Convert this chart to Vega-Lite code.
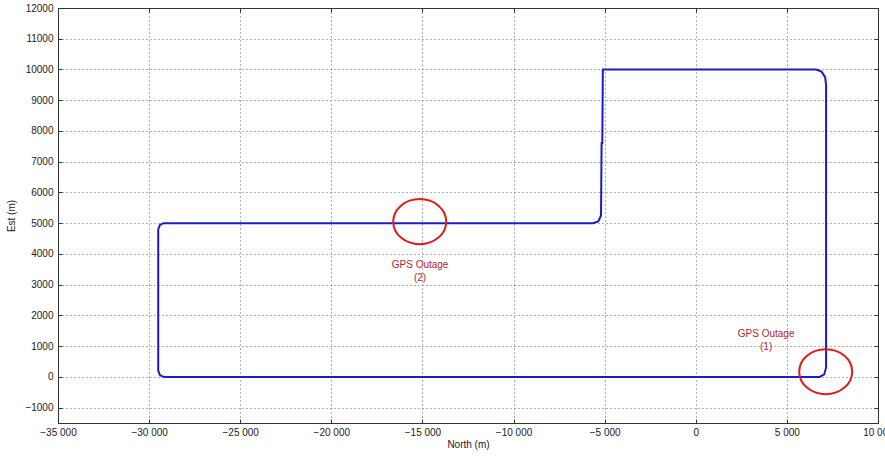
{
  "$schema": "https://vega.github.io/schema/vega-lite/v6.json",
  "autosize": "none",
  "width": 820,
  "height": 415,
  "padding": {"left": 58, "top": 8, "right": 7, "bottom": 36},
  "background": "white",
  "config": {
    "view": {"stroke": "#333", "strokeWidth": 1},
    "axis": {
      "labelFont": "Liberation Sans",
      "labelFontSize": 10,
      "labelColor": "#222",
      "titleFont": "Liberation Sans",
      "titleFontSize": 10,
      "titleFontWeight": "normal",
      "titleColor": "#222",
      "domainColor": "#333",
      "tickColor": "#333",
      "gridColor": "#555",
      "gridDash": [1, 3],
      "gridOpacity": 0.9,
      "labelFlush": false,
      "labelOverlap": false
    }
  },
  "datasets": {
    "path": [
      {"i": 1, "north": -29200, "est": 0},
      {"i": 2, "north": -29400, "est": 50},
      {"i": 3, "north": -29500, "est": 200},
      {"i": 4, "north": -29500, "est": 4800},
      {"i": 5, "north": -29400, "est": 4950},
      {"i": 6, "north": -29200, "est": 5000},
      {"i": 7, "north": -24000, "est": 5000},
      {"i": 8, "north": -5650, "est": 5000},
      {"i": 9, "north": -5350, "est": 5060},
      {"i": 10, "north": -5200, "est": 5250},
      {"i": 11, "north": -5170, "est": 7600},
      {"i": 12, "north": -5130, "est": 7600},
      {"i": 13, "north": -5100, "est": 10000},
      {"i": 14, "north": 6600, "est": 10000},
      {"i": 15, "north": 6900, "est": 9930},
      {"i": 16, "north": 7100, "est": 9750},
      {"i": 17, "north": 7150, "est": 9500},
      {"i": 18, "north": 7150, "est": 300},
      {"i": 19, "north": 7050, "est": 80},
      {"i": 20, "north": 6800, "est": 0},
      {"i": 21, "north": -29200, "est": 0}
    ],
    "outages": [
      {"north": -15150, "est": 5050, "name": "GPS Outage (2)"},
      {"north": 7130, "est": 170, "name": "GPS Outage (1)"}
    ],
    "labels": [
      {"north": -15130, "est": 3640, "text": "GPS Outage\n(2)"},
      {"north": 3860, "est": 1400, "text": "GPS Outage\n(1)"}
    ]
  },
  "layer": [
    {
      "data": {"name": "path"},
      "mark": {"type": "line", "color": "#1c1cc8", "strokeWidth": 2},
      "encoding": {
        "x": {
          "field": "north", "type": "quantitative",
          "scale": {"domain": [-35000, 10000], "nice": false, "zero": false},
          "axis": {
            "title": "North (m)",
            "values": [-35000, -30000, -25000, -20000, -15000, -10000, -5000, 0, 5000, 10000],
            "labelExpr": "replace(format(datum.value, ','), /,/g, ' ')",
            "tickSize": -4,
            "labelPadding": 8,
            "titlePadding": 2
          }
        },
        "y": {
          "field": "est", "type": "quantitative",
          "scale": {"domain": [-1500, 12000], "nice": false, "zero": false},
          "axis": {
            "title": "Est (m)",
            "values": [-1000, 0, 1000, 2000, 3000, 4000, 5000, 6000, 7000, 8000, 9000, 10000, 11000, 12000],
            "format": "d",
            "tickSize": -4,
            "labelPadding": 9,
            "titlePadding": 8
          }
        },
        "order": {"field": "i", "type": "quantitative"}
      }
    },
    {
      "data": {"name": "outages"},
      "mark": {
        "type": "point",
        "shape": "M-1,0 A1,0.85 0 1,0 1,0 A1,0.85 0 1,0 -1,0 Z",
        "size": 2809,
        "filled": false,
        "stroke": "#dd1c1c",
        "strokeWidth": 2,
        "opacity": 1
      },
      "encoding": {
        "x": {"field": "north", "type": "quantitative", "axis": {"orient": "top", "labels": false, "title": null, "grid": false, "tickSize": -4, "values": [-35000, -30000, -25000, -20000, -15000, -10000, -5000, 0, 5000, 10000]}},
        "y": {"field": "est", "type": "quantitative", "axis": {"orient": "right", "labels": false, "title": null, "grid": false, "tickSize": -4, "values": [-1000, 0, 1000, 2000, 3000, 4000, 5000, 6000, 7000, 8000, 9000, 10000, 11000, 12000]}}
      }
    },
    {
      "data": {"name": "labels"},
      "mark": {
        "type": "text",
        "font": "Liberation Sans",
        "fontSize": 10,
        "color": "#b5262a",
        "lineBreak": "\n",
        "lineHeight": 13,
        "align": "center",
        "baseline": "middle"
      },
      "encoding": {
        "x": {"field": "north", "type": "quantitative", "axis": null},
        "y": {"field": "est", "type": "quantitative", "axis": null},
        "text": {"field": "text"}
      }
    }
  ],
  "resolve": {"axis": {"x": "independent", "y": "independent"}}
}
